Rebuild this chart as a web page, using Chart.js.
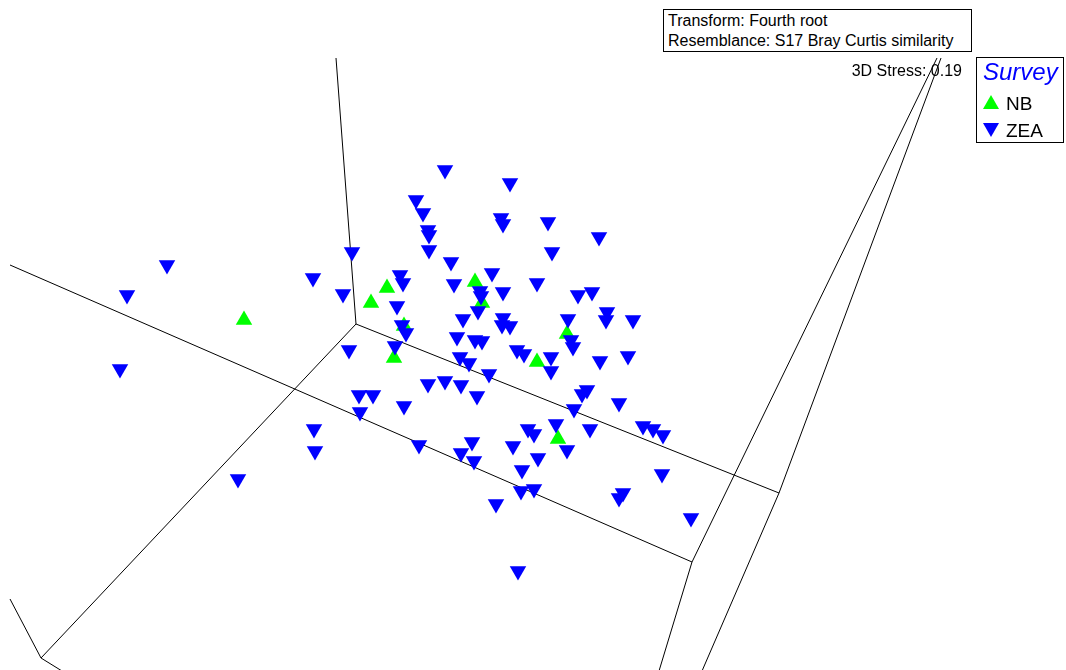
<!DOCTYPE html>
<html>
<head>
<meta charset="utf-8">
<script src="https://cdn.jsdelivr.net/npm/chart.js@4.4.1/dist/chart.umd.min.js"></script>
<style>
  html, body { margin: 0; padding: 0; background: #fff; }
  #wrap { position: relative; width: 1066px; height: 670px; overflow: hidden; font-family: "Liberation Sans", Arial, sans-serif; }
  #c { position: absolute; left: 0; top: 0; }
  .box { position: absolute; border: 1px solid #000; background: #fff; box-sizing: border-box; }
  #info { left: 663px; top: 9px; width: 309px; height: 43px; font-size: 16px; line-height: 20px; padding: 1px 0 0 4px; color: #000; white-space: nowrap; }
  #stress { position: absolute; right: 104px; top: 62px; font-size: 16px; color: #000; white-space: nowrap; }
  #legend { left: 976px; top: 57px; width: 88px; height: 86px; }
  #legend .title { position: absolute; left: 6px; top: 0px; font-size: 24px; font-style: italic; color: #0000ff; }
  #legend .item { position: absolute; left: 6px; font-size: 19px; color: #000; white-space: nowrap; }
  #legend svg { position: absolute; left: 0; top: 0; }
</style>
</head>
<body>
<div id="wrap">
  <canvas id="c" width="1066" height="670"></canvas>
  <div id="stress">3D Stress: 0.19</div>
  <div class="box" id="info">Transform: Fourth root<br>Resemblance: S17 Bray Curtis similarity</div>
  <div class="box" id="legend">
    <div class="title">Survey</div>
    <div class="item" style="top:35px;"><svg width="20" height="20" style="top:0px;"><polygon points="0,16 16,16 8,2" fill="#00ff00"/></svg><span style="position:absolute;left:23px;top:0;">NB</span></div>
    <div class="item" style="top:62px;"><svg width="20" height="20" style="top:0px;"><polygon points="0,3 16,3 8,17" fill="#0000ff"/></svg><span style="position:absolute;left:23px;top:0;">ZEA</span></div>
  </div>
</div>
<script>
// Projected ordination coordinates (screen-projection units of the 3D MDS view)
const seriesNames = ["NB", "ZEA"];

const nbX = [244, 371, 387, 404, 394, 475, 482, 537, 567, 558];
const nbY = [320, 303, 288, 326, 358, 282, 303, 362, 334, 439];

const zeaX = [445, 510, 416, 423, 501, 503, 548, 428, 429, 599,
              429, 552, 352, 451, 167, 492, 313, 400, 403, 537,
              454, 480, 481, 503, 578, 592, 127, 343, 397, 478,
              463, 503, 502, 510, 568, 607, 606, 633, 402, 406,
              457, 475, 482, 571, 573, 395, 349, 517, 524, 460,
              469, 551, 551, 600, 628, 120, 489, 428, 445, 461,
              477, 587, 582, 359, 373, 360, 404, 574, 619, 314,
              315, 419, 472, 461, 474, 528, 534, 513, 556, 567,
              538, 590, 643, 653, 663, 522, 521, 534, 496, 662,
              623, 619, 691, 238, 518];
const zeaY = [170, 183, 200, 213, 218, 224, 222, 230, 235, 237,
              250, 252, 252, 262, 265, 273, 278, 275, 283, 283,
              284, 291, 296, 292, 295, 292, 295, 294, 306, 311,
              319, 318, 325, 326, 319, 312, 320, 320, 325, 333,
              337, 340, 341, 340, 347, 346, 350, 350, 354, 357,
              363, 357, 371, 361, 356, 369, 374, 384, 381, 385,
              396, 390, 394, 395, 395, 412, 406, 409, 403, 429,
              451, 445, 442, 453, 461, 429, 434, 446, 424, 450,
              458, 429, 426, 429, 435, 470, 491, 489, 504, 474,
              493, 498, 518, 479, 571];

// 3D frame edges (projected polylines)
const frameEdges = [
  { x: [336, 356], y: [58, 324] },
  { x: [356, 779], y: [324, 493] },
  { x: [356, 41], y: [324, 658] },
  { x: [10, 41, 62], y: [599, 658, 671] },
  { x: [10, 692], y: [265, 562] },
  { x: [937, 692, 659], y: [58, 562, 671] },
  { x: [941, 779, 702], y: [58, 493, 671] }
];

const toPts = (xs, ys) => xs.map((v, i) => ({ x: v, y: ys[i] }));

const datasets = [];
frameEdges.forEach((e, i) => {
  datasets.push({
    label: "edge" + i,
    data: toPts(e.x, e.y),
    showLine: true,
    borderColor: "#000",
    borderWidth: 1,
    pointRadius: 0,
    fill: false,
    order: 3
  });
});
datasets.push({
  label: seriesNames[0],
  data: toPts(nbX, nbY),
  pointStyle: "triangle",
  pointRadius: 9.5,
  pointRotation: 0,
  backgroundColor: "#00ff00",
  borderWidth: 0,
  order: 2
});
datasets.push({
  label: seriesNames[1],
  data: toPts(zeaX, zeaY),
  pointStyle: "triangle",
  pointRadius: 9.5,
  pointRotation: 180,
  backgroundColor: "#0000ff",
  borderWidth: 0,
  order: 1
});

new Chart(document.getElementById("c"), {
  type: "scatter",
  data: { datasets },
  options: {
    responsive: false,
    animation: false,
    devicePixelRatio: 1,
    layout: { padding: 0, autoPadding: false },
    plugins: { legend: { display: false }, tooltip: { enabled: false } },
    elements: { line: { tension: 0 } },
    scales: {
      x: { type: "linear", min: 0, max: 1066, display: false },
      y: { type: "linear", min: 0, max: 670, reverse: true, display: false }
    }
  }
});
</script>
</body>
</html>
